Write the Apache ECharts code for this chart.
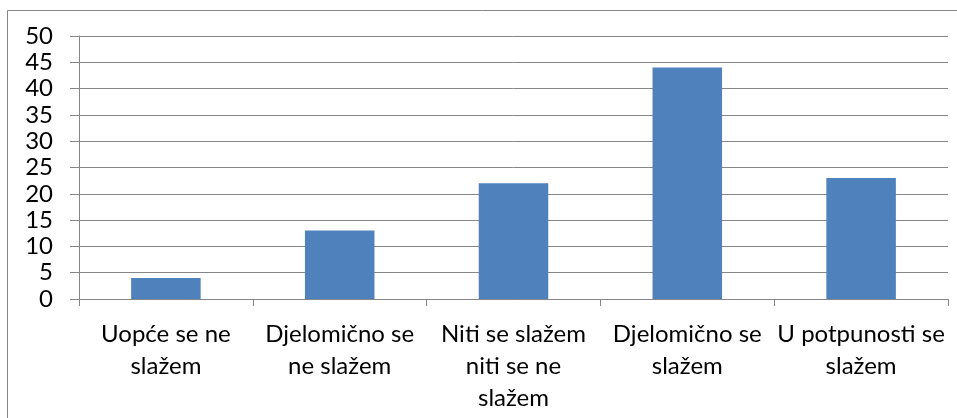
<!DOCTYPE html>
<html>
<head>
<meta charset="utf-8">
<script src="https://cdn.jsdelivr.net/npm/echarts@6/dist/echarts.min.js"></script>
<style>
  html, body { margin: 0; padding: 0; background: #fff; }
  #chart { width: 957px; height: 418px; }
</style>
</head>
<body>
<div id="chart"></div>
<script>
// answers to the survey statement
var categories = [
  "Uopće se ne\nslažem",
  "Djelomično se\nne slažem",
  "Niti se slažem\nniti se ne\nslažem",
  "Djelomično se\nslažem",
  "U potpunosti se\nslažem"
];
var counts = [4, 13, 22, 44, 23];
var yTicks = [0, 5, 10, 15, 20, 25, 30, 35, 40, 45, 50];

var lineColor = "#868686";
var fontFamily = "Lato";

var chart = echarts.init(document.getElementById("chart"), null, {renderer: "canvas"});

chart.setOption({
  animation: false,
  backgroundColor: "#ffffff",
  graphic: [{
    type: "rect",
    shape: {x: 7.5, y: 10.5, width: 980, height: 440},
    style: {fill: "none", stroke: lineColor, lineWidth: 1},
    silent: true
  }],
  grid: {left: 79, right: 9, top: 36, bottom: 119, containLabel: false},
  xAxis: {
    type: "category",
    data: categories,
    axisLine: {lineStyle: {color: lineColor, width: 1}},
    axisTick: {show: true, length: 7, lineStyle: {color: lineColor}},
    axisLabel: {
      interval: 0,
      margin: 19,
      color: "#000",
      fontFamily: fontFamily,
      fontSize: 24,
      lineHeight: 32
    }
  },
  yAxis: {
    type: "value",
    min: yTicks[0],
    max: yTicks[yTicks.length - 1],
    interval: 5,
    axisLine: {show: true, lineStyle: {color: lineColor, width: 1}},
    axisTick: {show: true, inside: false, length: 9, lineStyle: {color: lineColor}},
    splitLine: {show: true, lineStyle: {color: lineColor, width: 1}},
    axisLabel: {
      margin: 26,
      color: "#000",
      fontFamily: fontFamily,
      fontSize: 24
    }
  },
  series: [{
    type: "bar",
    data: counts,
    barWidth: "40%",
    itemStyle: {color: "#4F81BD"}
  }]
});
</script>
</body>
</html>
